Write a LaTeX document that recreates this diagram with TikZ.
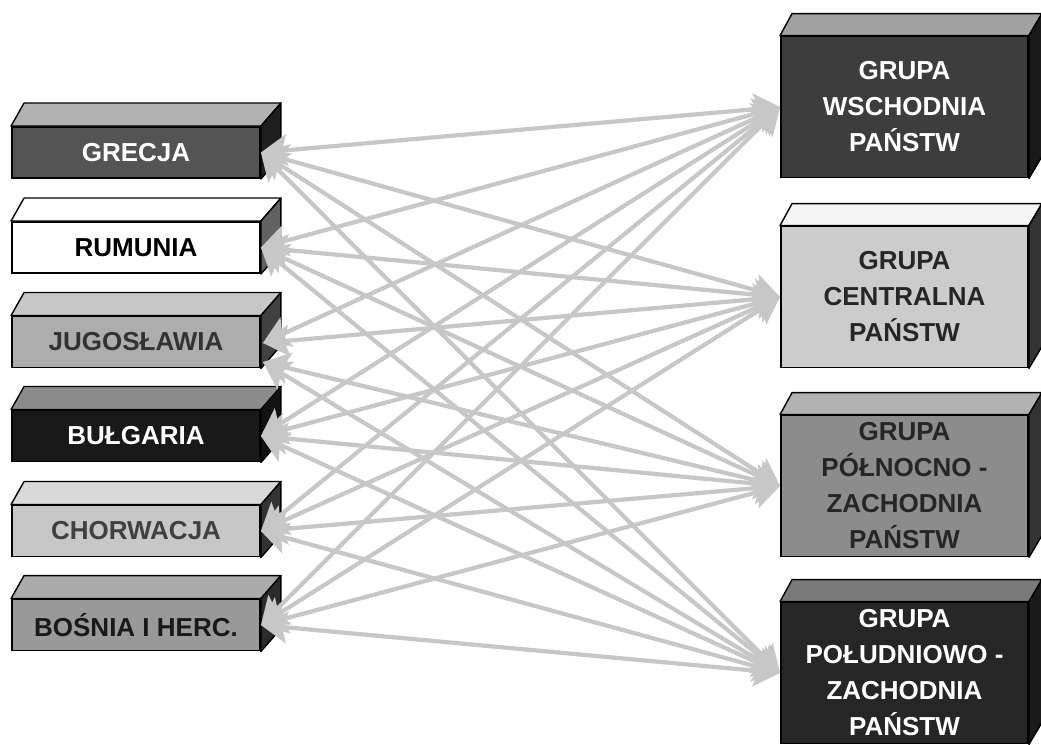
\documentclass[tikz,border=0pt]{standalone}
\usepackage{fontspec}
\setmainfont{Liberation Sans}
\usetikzlibrary{arrows.meta,calc}

\tikzset{
  front/.style={draw=black, line width=1.1pt, align=center, inner sep=0pt,
    font=\bfseries\fontsize{14.8}{20.5}\selectfont},
  country/.style={front, minimum width=4.96cm, minimum height=1.02cm},
  group/.style={front, minimum width=4.94cm, minimum height=2.82cm},
  face/.style={draw=black, line width=0.8pt, line join=round},
  link/.style={draw=black!22, line width=2.4pt, <->,
    >={Stealth[length=15pt, width=18pt, inset=3pt]}}
}

\begin{document}
\begin{tikzpicture}[x=0.02cm, y=-0.02cm]
  \useasboundingbox[fill=white] (0,0) rectangle (1041,744);

  % countries
  \node[country, fill=black!67, text=white]    (grecja)    at (136,152.5) {GRECJA};
  \node[country, fill=white, text=black]       (rumunia)   at (136,247.5) {RUMUNIA};
  \node[country, fill=black!32, text=black!80] (jugo)      at (136,342)   {JUGOSŁAWIA};
  \node[country, fill=black!90, text=white]    (bulgaria)  at (136,436)   {BUŁGARIA};
  \node[country, fill=black!22, text=black!75] (chorwacja) at (136,531)   {CHORWACJA};
  \node[country, fill=black!40, text=black!90] (bosnia)    at (136,625)   {BOŚNIA I HERC.};

  % groups of states
  \node[group, fill=black!76, text=white]    (wsch)     at (904.5,107) {GRUPA\\WSCHODNIA\\PAŃSTW};
  \node[group, fill=black!20, text=black!85] (centr)    at (904.5,297) {GRUPA\\CENTRALNA\\PAŃSTW};
  \node[group, fill=black!45, text=black!85] (polnoc)   at (904.5,486) {GRUPA\\PÓŁNOCNO -\\ZACHODNIA\\PAŃSTW};
  \node[group, fill=black!85, text=white]    (poludnie) at (904.5,673) {GRUPA\\POŁUDNIOWO -\\ZACHODNIA\\PAŃSTW};

  % top and side faces
  \foreach \name/\top/\side/\a/\b/\d in {
      grecja/black!30/black!88/13/20/23, rumunia/white/black!62/13/20/23,
      jugo/black!22/black!75/13/20/23, bulgaria/black!45/black!93/13/20/23,
      chorwacja/black!15/black!80/13/20/23, bosnia/black!33/black!83/13/20/23,
      wsch/black!37/black!90/12/13/22, centr/black!4/black!80/12/13/22,
      polnoc/black!30/black!80/12/13/22, poludnie/black!52/black!90/12/13/22} {
    \draw[face, fill=\top] (\name.north west) -- ++(\a,-\d)
      -- ($(\name.north east)+(\b,-\d)$) -- (\name.north east) -- cycle;
    \draw[face, fill=\side] (\name.north east) -- ++(\b,-\d)
      -- ($(\name.south east)+(\b,-\d)$) -- (\name.south east) -- cycle;
  }

  \coordinate (jugo-hi) at ($(jugo.east)+(2,1)$);
  \coordinate (jugo-lo) at ($(jugo.east)+(2,20)$);

  % links
  \foreach \hi/\lo in {grecja.east/grecja.east, rumunia.east/rumunia.east,
      jugo-hi/jugo-lo, bulgaria.east/bulgaria.east,
      chorwacja.east/chorwacja.east, bosnia.east/bosnia.east} {
    \foreach \grp in {wsch,centr} \draw[link] (\hi) -- (\grp.west);
    \foreach \grp in {polnoc,poludnie} \draw[link] (\lo) -- (\grp.west);
  }
\end{tikzpicture}
\end{document}
